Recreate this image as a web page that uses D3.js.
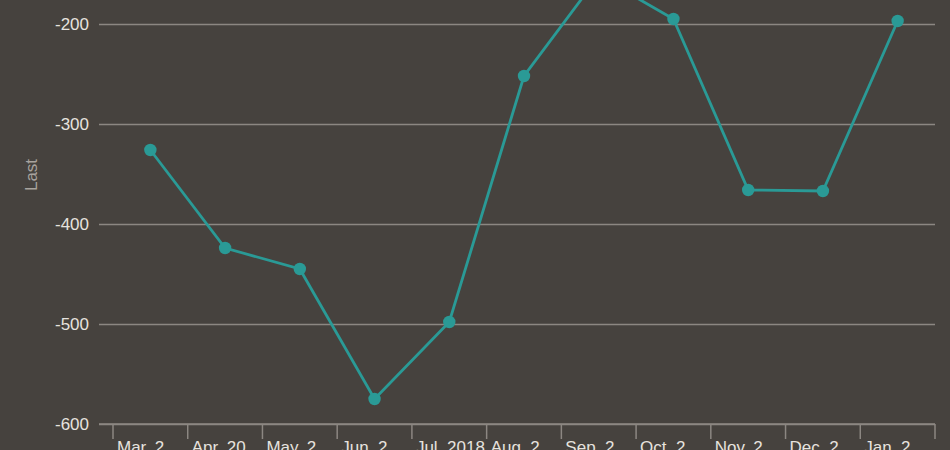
<!DOCTYPE html>
<html>
<head>
<meta charset="utf-8">
<script src="https://cdn.jsdelivr.net/npm/d3@7"></script>
<style>
  html, body { margin: 0; padding: 0; background: #46423e; overflow: hidden; }
  svg { display: block; font-family: "Liberation Sans", Arial, sans-serif; }
</style>
</head>
<body>
<div id="chart"></div>
<script>

// months as they show under the axis (cut to the band width)
var categories = ["Mar. 2", "Apr. 20", "May. 2", "Jun. 2", "Jul. 2018", "Aug. 2", "Sep. 2", "Oct. 2", "Nov. 2", "Dec. 2", "Jan. 2"];
var lastValues = [-326, -424, -445, -575, -498, -252, -152, -195, -366, -367, -197];
var yTicks = [-600, -500, -400, -300, -200];

var W = 950, H = 450;
var plotLeft = 113, plotRight = 935, plotTop = 24, plotBottom = 424;

var svg = d3.select("#chart")
  .append("svg")
  .attr("width", W)
  .attr("height", H);

svg.append("rect")
  .attr("width", W)
  .attr("height", H)
  .attr("fill", "#46423e");

var x = d3.scaleBand().domain(categories).range([plotLeft, plotRight]);
var y = d3.scaleLinear().domain([-600, -200]).range([plotBottom, plotTop]);

// grid + y labels (plain hyphen for the minus sign)
var yAxis = d3.axisLeft(y).tickValues(yTicks).tickSize(0).tickPadding(10)
  .tickFormat(function(d) { return String(d); });
var gy = svg.append("g")
  .attr("transform", "translate(99,0)")
  .call(yAxis);
gy.select(".domain").remove();
gy.selectAll(".tick line")
  .attr("x1", 0)
  .attr("x2", plotRight - 99)
  .attr("stroke", "#8c8782")
  .attr("stroke-width", 1.3);
gy.selectAll(".tick text")
  .attr("fill", "#e6e3df")
  .attr("font-size", 17);

// x axis: ticks on band edges, labels inside each band
var gx = svg.append("g").attr("class", "x axis");
gx.append("line")
  .attr("x1", 99).attr("x2", plotRight)
  .attr("y1", plotBottom).attr("y2", plotBottom)
  .attr("stroke", "#8c8782")
  .attr("stroke-width", 1.5);

var edges = categories.map(function(c) { return x(c); }).concat([plotRight]);
gx.selectAll("line.tk")
  .data(edges)
  .enter()
  .append("line")
  .attr("class", "tk")
  .attr("x1", function(d) { return d; })
  .attr("x2", function(d) { return d; })
  .attr("y1", plotBottom)
  .attr("y2", plotBottom + 15)
  .attr("stroke", "#8c8782")
  .attr("stroke-width", 1.5);

gx.selectAll("text")
  .data(categories)
  .enter()
  .append("text")
  .attr("x", function(d) { return x(d) + 4; })
  .attr("y", plotBottom + 29)
  .attr("fill", "#e6e3df")
  .attr("font-size", 17)
  .text(function(d) { return d; });

// y title
svg.append("text")
  .attr("transform", "translate(37,175) rotate(-90)")
  .attr("text-anchor", "middle")
  .attr("fill", "#a8a39e")
  .attr("font-size", 17)
  .text("Last");

// line + points
var line = d3.line()
  .x(function(d, i) { return x(categories[i]) + x.bandwidth() / 2; })
  .y(function(d) { return y(d); });

svg.append("path")
  .datum(lastValues)
  .attr("d", line)
  .attr("fill", "none")
  .attr("stroke", "#2a9a96")
  .attr("stroke-width", 2.8);

svg.selectAll("circle")
  .data(lastValues)
  .enter()
  .append("circle")
  .attr("cx", function(d, i) { return x(categories[i]) + x.bandwidth() / 2; })
  .attr("cy", function(d) { return y(d); })
  .attr("r", 6.2)
  .attr("fill", "#2a9a96");

</script>
</body>
</html>
